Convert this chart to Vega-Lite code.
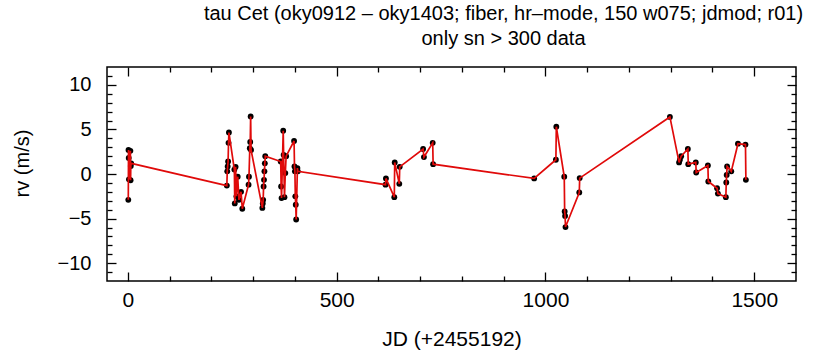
{
  "$schema": "https://vega.github.io/schema/vega-lite/v6.json",
  "width": 689,
  "height": 214,
  "autosize": {"type": "none"},
  "padding": {"left": 107, "top": 67, "right": 29, "bottom": 75},
  "background": "white",
  "title": {
    "text": ["tau Cet (oky0912 – oky1403; fiber, hr–mode, 150 w075; jdmod; r01)", "only sn > 300 data"],
    "font": "Liberation Sans",
    "fontSize": 20,
    "fontWeight": "normal",
    "lineHeight": 25,
    "baseline": "bottom",
    "offset": -3,
    "anchor": "middle",
    "frame": "group",
    "dx": 52,
    "color": "black"
  },
  "config": {
    "view": {"stroke": "black", "strokeWidth": 1.5},
    "axis": {
      "labelFont": "Liberation Sans",
      "titleFont": "Liberation Sans",
      "labelColor": "black",
      "titleColor": "black",
      "tickColor": "black",
      "tickWidth": 1.3,
      "grid": false,
      "domain": false,
      "format": "d"
    }
  },
  "data": {
    "values": [
      {"jd": 1, "rv": -2.9}, {"jd": 1.5, "rv": 2.7}, {"jd": 2, "rv": 1.8}, {"jd": 2.5, "rv": -0.6},
      {"jd": 6, "rv": 2.6}, {"jd": 6.5, "rv": -0.7}, {"jd": 7, "rv": 0.9}, {"jd": 8, "rv": 1.2},
      {"jd": 237, "rv": -1.3}, {"jd": 238, "rv": 0.3}, {"jd": 239, "rv": 0.85}, {"jd": 240, "rv": 1.4},
      {"jd": 241, "rv": 3.5}, {"jd": 242, "rv": 4.65},
      {"jd": 255, "rv": 0.5}, {"jd": 256, "rv": -3.3}, {"jd": 258, "rv": 0.8}, {"jd": 260, "rv": -2.5},
      {"jd": 263, "rv": -0.3}, {"jd": 266, "rv": -2.9}, {"jd": 271, "rv": -2.0}, {"jd": 274, "rv": -3.9},
      {"jd": 289, "rv": -1.2}, {"jd": 290, "rv": -0.3}, {"jd": 292, "rv": 2.9}, {"jd": 293, "rv": 3.6},
      {"jd": 294, "rv": 6.45}, {"jd": 295, "rv": 2.7},
      {"jd": 322, "rv": -3.8}, {"jd": 323, "rv": -3.3}, {"jd": 324, "rv": -2.9}, {"jd": 325, "rv": -1.4},
      {"jd": 326, "rv": -0.65}, {"jd": 327, "rv": 0.3}, {"jd": 328, "rv": 1.2}, {"jd": 329, "rv": 2.0},
      {"jd": 366, "rv": 1.4}, {"jd": 367, "rv": -1.4}, {"jd": 368, "rv": -2.7}, {"jd": 372, "rv": 4.85},
      {"jd": 373, "rv": 2.15}, {"jd": 375, "rv": -2.6}, {"jd": 377, "rv": 0.1}, {"jd": 379, "rv": 2.0},
      {"jd": 398, "rv": 3.7}, {"jd": 399, "rv": 0.84}, {"jd": 400, "rv": 0.3}, {"jd": 401, "rv": -2.5},
      {"jd": 402, "rv": -3.45}, {"jd": 403, "rv": -5.1}, {"jd": 406, "rv": 0.66}, {"jd": 407, "rv": 0.3},
      {"jd": 617, "rv": -1.2}, {"jd": 618, "rv": -0.5}, {"jd": 638, "rv": -2.6}, {"jd": 639, "rv": 1.3},
      {"jd": 650, "rv": -1.1}, {"jd": 651, "rv": 0.8}, {"jd": 707, "rv": 2.8}, {"jd": 709, "rv": 1.9},
      {"jd": 730, "rv": 3.5}, {"jd": 731, "rv": 1.1},
      {"jd": 973, "rv": -0.5}, {"jd": 1025, "rv": 1.6}, {"jd": 1026, "rv": 5.3}, {"jd": 1045, "rv": -0.3},
      {"jd": 1046, "rv": -4.2}, {"jd": 1047, "rv": -4.7}, {"jd": 1048, "rv": -5.95}, {"jd": 1081, "rv": -2.07},
      {"jd": 1082, "rv": -0.46},
      {"jd": 1298, "rv": 6.4}, {"jd": 1320, "rv": 1.3}, {"jd": 1322, "rv": 1.6}, {"jd": 1325, "rv": 2.0},
      {"jd": 1341, "rv": 2.8}, {"jd": 1342, "rv": 1.1}, {"jd": 1360, "rv": 1.3}, {"jd": 1361, "rv": 0.17},
      {"jd": 1389, "rv": 0.95}, {"jd": 1390, "rv": -0.84}, {"jd": 1411, "rv": -1.6}, {"jd": 1413, "rv": -2.2},
      {"jd": 1432, "rv": -2.6}, {"jd": 1433, "rv": -0.95}, {"jd": 1434, "rv": -0.1}, {"jd": 1435, "rv": 0.84},
      {"jd": 1445, "rv": 0.3}, {"jd": 1461, "rv": 3.4}, {"jd": 1479, "rv": 3.3}, {"jd": 1480, "rv": -0.65}
    ]
  },
  "layer": [
    {
      "mark": {"type": "point", "filled": true, "color": "black", "size": 34, "opacity": 1},
      "encoding": {
        "x": {"field": "jd", "type": "quantitative", "scale": {"domain": [-50, 1600], "nice": false, "zero": false},
          "axis": {"orient": "bottom", "values": [0, 500, 1000, 1500], "ticks": false, "labelPadding": 8, "labelFontSize": 21,
            "title": "JD (+2455192)", "titleFontSize": 21, "titleFontWeight": "normal", "titlePadding": 18}},
        "y": {"field": "rv", "type": "quantitative", "scale": {"domain": [-12, 12], "nice": false, "zero": false},
          "axis": {"orient": "left", "values": [-10, -5, 0, 5, 10], "ticks": false, "labelPadding": 16, "labelFontSize": 20,
            "title": "rv (m/s)", "titleFontSize": 20, "titleFontWeight": "normal", "titlePadding": 25, "titleY": 96}}
      }
    },
    {
      "mark": {"type": "line", "color": "#e00a0a", "strokeWidth": 1.7},
      "encoding": {
        "x": {"field": "jd", "type": "quantitative", "scale": {"domain": [-50, 1600], "nice": false, "zero": false},
          "axis": {"orient": "bottom", "values": [0, 500, 1000, 1500], "labels": false, "tickSize": -9, "title": null}},
        "y": {"field": "rv", "type": "quantitative", "scale": {"domain": [-12, 12], "nice": false, "zero": false},
          "axis": {"orient": "left", "values": [-10, -5, 0, 5, 10], "labels": false, "tickSize": -9, "title": null}}
      }
    },
    {
      "mark": {"type": "point", "opacity": 0},
      "encoding": {
        "x": {"field": "jd", "type": "quantitative", "scale": {"domain": [-50, 1600], "nice": false, "zero": false},
          "axis": {"orient": "bottom", "values": [100, 200, 300, 400, 600, 700, 800, 900, 1100, 1200, 1300, 1400], "labels": false, "tickSize": -5, "title": null}},
        "y": {"field": "rv", "type": "quantitative", "scale": {"domain": [-12, 12], "nice": false, "zero": false},
          "axis": {"orient": "left", "values": [-11, -9, -8, -7, -6, -4, -3, -2, -1, 1, 2, 3, 4, 6, 7, 8, 9, 11], "labels": false, "tickSize": -5, "title": null}}
      }
    },
    {
      "mark": {"type": "point", "opacity": 0},
      "encoding": {
        "x": {"field": "jd", "type": "quantitative", "scale": {"domain": [-50, 1600], "nice": false, "zero": false},
          "axis": {"orient": "top", "values": [0, 500, 1000, 1500], "labels": false, "tickSize": -9, "title": null}},
        "y": {"field": "rv", "type": "quantitative", "scale": {"domain": [-12, 12], "nice": false, "zero": false},
          "axis": {"orient": "right", "values": [-10, -5, 0, 5, 10], "labels": false, "tickSize": -9, "title": null}}
      }
    },
    {
      "mark": {"type": "point", "opacity": 0},
      "encoding": {
        "x": {"field": "jd", "type": "quantitative", "scale": {"domain": [-50, 1600], "nice": false, "zero": false},
          "axis": {"orient": "top", "values": [100, 200, 300, 400, 600, 700, 800, 900, 1100, 1200, 1300, 1400], "labels": false, "tickSize": -5, "title": null}},
        "y": {"field": "rv", "type": "quantitative", "scale": {"domain": [-12, 12], "nice": false, "zero": false},
          "axis": {"orient": "right", "values": [-11, -9, -8, -7, -6, -4, -3, -2, -1, 1, 2, 3, 4, 6, 7, 8, 9, 11], "labels": false, "tickSize": -5, "title": null}}
      }
    }
  ],
  "resolve": {"axis": {"x": "independent", "y": "independent"}}
}
